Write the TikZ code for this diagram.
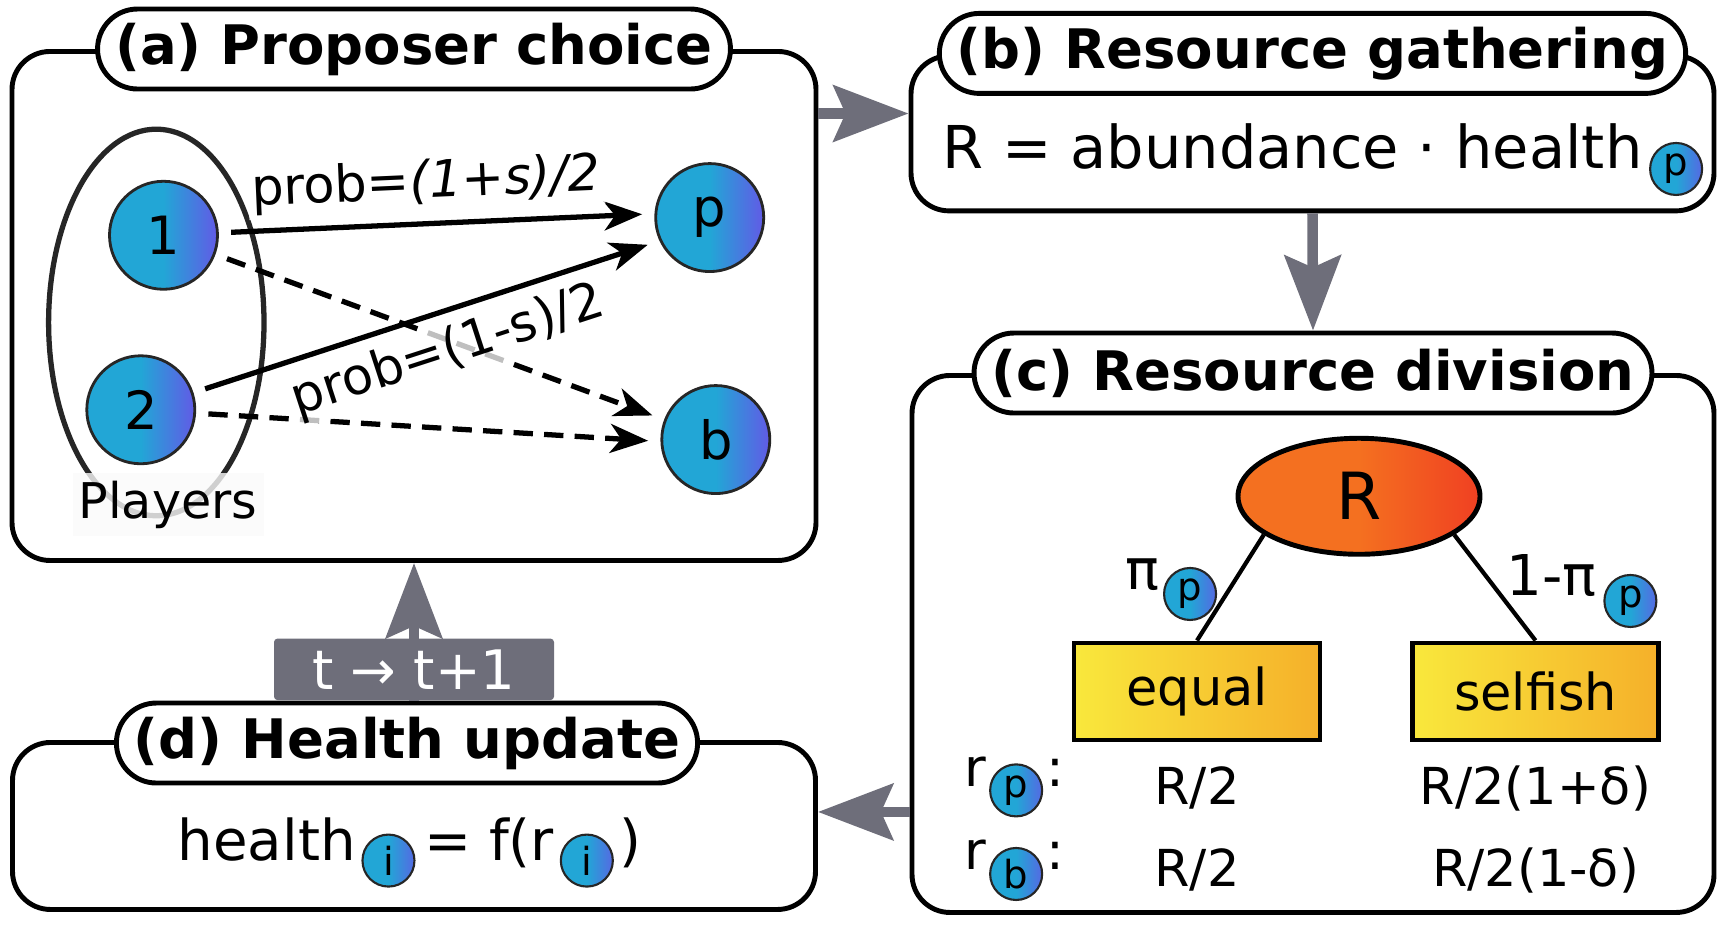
\documentclass[tikz,border=0pt]{standalone}
\usepackage{fontspec}
\setmainfont{DejaVu Sans}
\usetikzlibrary{positioning,arrows.meta,shapes.geometric}

\definecolor{flowgray}{RGB}{110,110,122}
\definecolor{ink}{RGB}{38,38,38}
\definecolor{ballL}{RGB}{34,166,214}
\definecolor{ballR}{RGB}{98,90,230}
\definecolor{fireL}{RGB}{244,112,32}
\definecolor{fireR}{RGB}{240,64,34}
\definecolor{sunL}{RGB}{249,232,60}
\definecolor{sunR}{RGB}{245,176,42}

\begin{document}
\begin{tikzpicture}[
    % panel frames and the pill shaped titles sitting on their top edge
    panel/.style={draw, line width=1.4pt, rounded corners=0.38cm, fill=white},
    tab/.style={draw, line width=1.4pt, rounded corners=0.4cm, fill=white, minimum height=0.8cm, inner xsep=5pt, font=\fontsize{15.5}{18}\selectfont\bfseries},
    % thick gray arrows between the panels
    flow/.style={draw=flowgray, line width=3pt, -{Stealth[length=7.5mm, width=5.6mm, inset=1.2mm]}},
    stepbox/.style={fill=flowgray, text=white, rounded corners=1pt, minimum width=2.8cm, minimum height=0.615cm, inner sep=0pt, font=\fontsize{15.5}{18}\selectfont},
    % players and roles
    lasso/.style={draw=ink, line width=1.5pt},
    grouplabel/.style={fill=gray!4, fill opacity=0.8, text opacity=1, minimum width=1.91cm, minimum height=0.63cm, inner sep=1pt, font=\fontsize{14}{16}\selectfont},
    player/.style={circle, draw=ink, line width=0.8pt, minimum size=1.08cm, inner sep=0pt, left color=ballL, right color=ballR, middle color=ballL, font=\fontsize{15}{18}\selectfont},
    tag/.style={circle, draw=ink, line width=0.6pt, minimum size=0.52cm, inner sep=0pt, left color=ballL, right color=ballR!80!ballL, middle color=ballL, font=\fontsize{11}{12}\selectfont},
    pick/.style={line width=1.5pt, -{Stealth[length=3.8mm, width=2.9mm, inset=1.1mm]}, shorten <=3.5pt, shorten >=3.5pt},
    maybe/.style={pick, dash pattern=on 5.5pt off 3.2pt},
    problab/.style={fill=white, fill opacity=0.75, text opacity=1, inner sep=1pt, font=\fontsize{14.5}{17}\selectfont},
    % formulas and the division tree
    formula/.style={inner sep=0pt, font=\fontsize{16}{19}\selectfont},
    pot/.style={ellipse, draw, line width=1.4pt, minimum width=2.42cm, minimum height=1.16cm, left color=fireL, right color=fireR, middle color=fireL, font=\fontsize{18.5}{22}\selectfont},
    share/.style={draw, line width=1.4pt, minimum width=2.46cm, minimum height=0.97cm, left color=sunL, right color=sunR, font=\fontsize{14.5}{17}\selectfont},
    branch/.style={line width=1.2pt},
    lbl/.style={inner sep=0pt, font=\fontsize{16}{19}\selectfont},
    val/.style={inner sep=0pt, font=\fontsize{14.5}{17}\selectfont}
]
\useasboundingbox (0,0) rectangle (17.32,9.28);

% Panels
\node[panel, minimum width=8.04cm, minimum height=5.09cm] (boxa) at (4.14,6.22) {};
\node[panel, minimum width=8.03cm, minimum height=1.55cm] (boxb) at (13.125,7.946) {};
\node[panel, minimum width=8.02cm, minimum height=5.37cm] (boxc) at (13.13,2.84) {};
\node[panel, minimum width=8.03cm, minimum height=1.67cm] (boxd) at (4.14,1.02) {};

\node[tab] (taba) at (boxa.north) {(a) Proposer choice};
\node[tab] (tabb) at (boxb.north) {(b) Resource gathering};
\node[tab] (tabc) at (boxc.north) {(c) Resource division};
\node[tab] (tabd) at ([xshift=-0.07cm, yshift=-0.03cm]boxd.north) {(d) Health update};

% (a) players choose proposer and beneficiary
\draw[lasso] (1.563,6.055) ellipse (1.077cm and 1.933cm);
\node[grouplabel] (plab) at (1.68,4.235) {Players};

\foreach \n/\x/\y/\t in {n1/1.635/6.927/1, n2/1.408/5.182/2, np/7.097/7.104/p, nb/7.158/4.884/b}
  \node[player] (\n) at (\x,\y) {\t};

\draw[maybe] (n1) -- (nb.159);
\draw[maybe] (n2) -- (nb.182);
\draw[pick] (n1) -- (np.176) node[problab, pos=0.48, above=2.5pt, sloped] {prob=\textit{(1+s)/2}};
\draw[pick] (n2) -- (np.205) node[problab, pos=0.52, below=2.5pt, sloped] {prob=(1-s)/2};

% (b) gathered amount
\node[formula, font=\fontsize{16.8}{20}\selectfont, anchor=base west] (fb) at (9.42,7.59) {R = abundance · health};
\node[tag, right=0.6mm of fb.base east] (tb) {p};

% (c) split of R
\node[pot] (pot) at (13.59,4.317) {R};
\node[share] (eq) at (11.97,2.365) {equal};
\node[share] (sf) at (15.355,2.365) {selfish};
\draw[branch] (pot.202) -- (eq.north);
\draw[branch] (pot.-22) -- (sf.north);

\node[lbl, anchor=base east] (pil) at (11.6,3.38) {π};
\node[tag, right=0.3mm of pil.base east, yshift=-0.4mm] (tpl) {p};
\node[lbl, anchor=base west] (pir) at (15.06,3.32) {1-π};
\node[tag, right=0.6mm of pir.base east, yshift=-0.5mm] (tpr) {p};

\foreach \who/\y in {p/1.416, b/0.58} {
  \node[val, font=\fontsize{15}{18}\selectfont, anchor=base west] (r\who) at (9.64,\y) {r};
  \node[tag, right=0.2mm of r\who.base east, yshift=-0.4mm] (tr\who) {\who};
  \node[val, font=\fontsize{15}{18}\selectfont, right=0.3mm of tr\who.east, anchor=base west, yshift=0.4mm] (c\who) {:};
}

\node[val, anchor=base] (vpe) at (eq |- 0,1.23) {R/2};
\node[val, anchor=base] (vps) at (sf |- 0,1.23) {R/2(1+δ)};
\node[val, anchor=base] (vbe) at (eq |- 0,0.413) {R/2};
\node[val, anchor=base] (vbs) at (sf |- 0,0.413) {R/2(1-δ)};

% (d) update rule
\node[formula, anchor=base west] (hd) at (1.77,0.674) {health};
\node[tag, right=0.5mm of hd.base east] (ti1) {i};
\node[formula, right=0.8mm of ti1.east, anchor=base west] (fr) {= f(r};
\node[tag, right=0.5mm of fr.base east] (ti2) {i};
\node[formula, right=0.5mm of ti2.east, anchor=base west] (cl) {)};

% Flow between panels
\draw[flow] ([yshift=-0.645cm]boxa.north east) -- ([yshift=-0.645cm]boxa.north east -| boxb.west);
\draw[flow] (boxb.south) -- (tabc.north);
\draw[flow] ([yshift=1.03cm]boxc.south west) -- ([yshift=1.03cm]boxc.south west -| boxd.east);
\draw[flow] (tabd.north -| boxa.south) -- (boxa.south) node[stepbox, pos=0.227] (tstep) {t → t+1};

\end{tikzpicture}
\end{document}
